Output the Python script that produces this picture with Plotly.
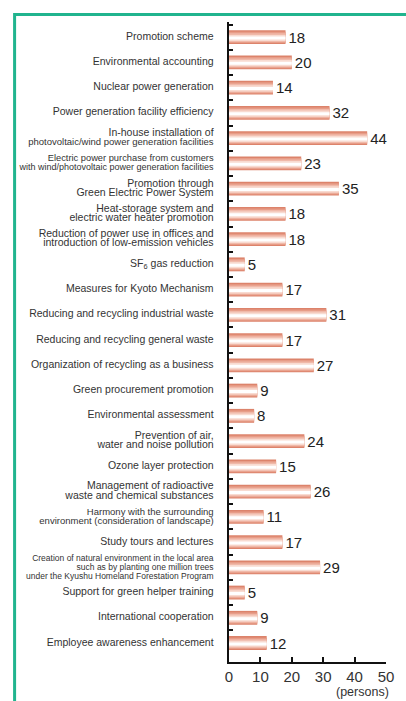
import plotly.graph_objects as go

categories = [
    "Promotion scheme",
    "Environmental accounting",
    "Nuclear power generation",
    "Power generation facility efficiency",
    "In-house installation of\nphotovoltaic/wind power generation facilities",
    "Electric power purchase from customers\nwith wind/photovoltaic power generation facilities",
    "Promotion through\nGreen Electric Power System",
    "Heat-storage system and\nelectric water heater promotion",
    "Reduction of power use in offices and\nintroduction of low-emission vehicles",
    "SF<sub>6</sub> gas reduction",
    "Measures for Kyoto Mechanism",
    "Reducing and recycling industrial waste",
    "Reducing and recycling general waste",
    "Organization of recycling as a business",
    "Green procurement promotion",
    "Environmental assessment",
    "Prevention of air,\nwater and noise pollution",
    "Ozone layer protection",
    "Management of radioactive\nwaste and chemical substances",
    "Harmony with the surrounding\nenvironment (consideration of landscape)",
    "Study tours and lectures",
    "Creation of natural environment in the local area\nsuch as by planting one million trees\nunder the Kyushu Homeland Forestation Program",
    "Support for green helper training",
    "International cooperation",
    "Employee awareness enhancement",
]
values = [18, 20, 14, 32, 44, 23, 35, 18, 18, 5, 17, 31, 17, 27, 9, 8, 24, 15, 26, 11, 17, 29, 5, 9, 12]
x_ticks = [0, 10, 20, 30, 40, 50]
x_unit = "(persons)"

# styling: per-line font sizes for the tick labels that are set smaller
BASE_LABEL = 10.5
line_fonts = {4: [10.5, 9.5], 5: [9.3, 9.0], 19: [9.5, 9.5], 21: [8.5, 8.5, 8.5]}
labels = []
for i, c in enumerate(categories):
    parts = c.split("\n")
    sizes = line_fonts.get(i, [BASE_LABEL] * len(parts))
    labels.append("<br>".join(
        f"<span style='font-size:{s}px'>{p}</span>" for p, s in zip(parts, sizes)))

FONT = "Liberation Sans, Arial, Helvetica, sans-serif"

layers = [
    (0.55, 0.0, "#dc836b"),
    (0.45, 0.01, "#e79c87"),
    (0.35, 0.02, "#f0b9a9"),
    (0.24, 0.03, "#f8dbd1"),
    (0.12, 0.035, "#ffffff"),
]

fig = go.Figure()
for k, (w, shift, col) in enumerate(layers):
    fig.add_trace(go.Bar(
        x=values, y=labels, orientation="h",
        width=w, offset=-w / 2 + shift,
        marker=dict(color=col, line=dict(width=0)),
        text=[str(v) for v in values] if k == 0 else None,
        textposition="outside" if k == 0 else "none",
        textfont=dict(size=15, color="#222", family=FONT),
        constraintext="none",
        cliponaxis=False,
        hoverinfo="skip",
    ))

fig.update_layout(
    width=406, height=701,
    margin=dict(l=229, r=17, t=22, b=39),
    barmode="overlay",
    showlegend=False,
    plot_bgcolor="white", paper_bgcolor="white",
    font=dict(family=FONT, color="#333"),
    xaxis=dict(
        range=[0, 50], tickmode="array", tickvals=x_ticks,
        ticks="inside", ticklen=5, tickwidth=1.5, tickcolor="#111",
        showline=True, linecolor="#111", linewidth=2,
        showgrid=False, zeroline=False,
        tickfont=dict(size=15, color="#333", family=FONT),
    ),
    yaxis=dict(
        type="category", range=[24.75, -0.6],
        tickson="boundaries", ticks="inside", ticklen=4, tickwidth=1.5, tickcolor="#111",
        showline=True, linecolor="#111", linewidth=2,
        showgrid=False, zeroline=False,
        tickfont=dict(size=7, color="#333", family=FONT),
        ticklabelstandoff=12,
    ),
    shapes=[dict(
        type="rect", xref="paper", yref="paper",
        x0=(10.5 - 229) / 160, x1=1.5,
        y0=-0.2, y1=(662 - 14.5) / 640,
        line=dict(color="#20b48e", width=3), fillcolor="rgba(0,0,0,0)",
        layer="above",
    )],
    annotations=[dict(
        text=x_unit, xref="paper", yref="paper",
        x=(365 - 229) / 160, y=(662 - 692) / 640,
        xanchor="center", yanchor="middle", showarrow=False,
        font=dict(size=12.5, color="#333", family=FONT),
    )],
)

fig.write_html(
    "out.html",
    config={"displayModeBar": False},
    post_script="document.body.style.margin='0';document.body.style.overflow='hidden';",
)
